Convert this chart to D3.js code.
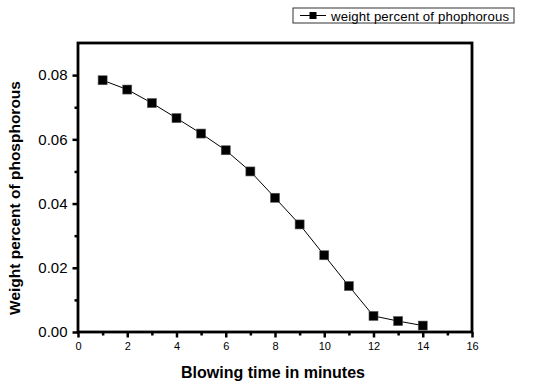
<!DOCTYPE html>
<html>
<head>
<meta charset="utf-8">
<script src="https://cdn.jsdelivr.net/npm/d3@7"></script>
<style>
  body { margin: 0; background: #fff; }
  text { font-family: Arial, "Liberation Sans", sans-serif; }
</style>
</head>
<body>
<div id="chart"></div>
<script>
const minutes = [1, 2, 3, 4, 5, 6, 7, 8, 9, 10, 11, 12, 13, 14];
const phosphorus = [0.0784, 0.0755, 0.0713, 0.0666, 0.0618, 0.0566, 0.0500,
                    0.0418, 0.0335, 0.0239, 0.0143, 0.0050, 0.0034, 0.0020];
const xTicks = [0, 2, 4, 6, 8, 10, 12, 14, 16];
const yTicks = [0, 0.02, 0.04, 0.06, 0.08];
const seriesName = "weight percent of phophorous";

const W = 541, H = 386;
const margin = { top: 43, right: 69, bottom: 54, left: 78 },
      width = W - margin.left - margin.right,
      height = H - margin.top - margin.bottom;

const svg = d3.select("#chart").append("svg")
    .attr("width", W).attr("height", H)
  .append("g")
    .attr("transform", `translate(${margin.left},${margin.top})`);

const x = d3.scaleLinear().domain([0, 16]).range([0, width]);
const y = d3.scaleLinear().domain([0, 0.09]).range([height, 0]);

// minor ticks
svg.append("g")
    .attr("transform", `translate(0,${height})`)
    .call(d3.axisBottom(x).tickValues(d3.range(1, 16, 2)).tickSize(3.5).tickFormat(""))
    .call(g => g.select(".domain").remove())
    .selectAll("line").attr("stroke-width", 2.5);
svg.append("g")
    .call(d3.axisLeft(y).tickValues([0.01, 0.03, 0.05, 0.07]).tickSize(3.5).tickFormat(""))
    .call(g => g.select(".domain").remove())
    .selectAll("line").attr("stroke-width", 2.5);

// major ticks
const xAxis = svg.append("g")
    .attr("transform", `translate(0,${height})`)
    .call(d3.axisBottom(x).tickValues(xTicks).tickSize(5.5).tickPadding(5).tickFormat(d3.format("d")));
xAxis.select(".domain").remove();
xAxis.selectAll("line").attr("stroke-width", 2.5);
xAxis.selectAll("text").attr("font-size", 11).attr("fill", "#000");

const yAxis = svg.append("g")
    .call(d3.axisLeft(y).tickValues(yTicks).tickSize(5.5).tickPadding(5).tickFormat(d3.format(".2f")));
yAxis.select(".domain").remove();
yAxis.selectAll("line").attr("stroke-width", 2.5);
yAxis.selectAll("text").attr("font-size", 15).attr("fill", "#000");

// frame
svg.append("rect")
    .attr("width", width).attr("height", height)
    .attr("fill", "none").attr("stroke", "#000").attr("stroke-width", 2.8);

// line + markers
const line = d3.line()
    .x((d, i) => x(minutes[i]))
    .y(d => y(d));

svg.append("path")
    .datum(phosphorus)
    .attr("fill", "none")
    .attr("stroke", "#000")
    .attr("stroke-width", 1)
    .attr("d", line);

svg.selectAll(".pt")
    .data(phosphorus)
    .enter().append("rect")
    .attr("class", "pt")
    .attr("x", (d, i) => x(minutes[i]) - 4.5)
    .attr("y", d => y(d) - 4.5)
    .attr("width", 9).attr("height", 9)
    .attr("fill", "#000")
    .attr("stroke", "#555").attr("stroke-width", 0.6);

// axis titles
svg.append("text")
    .attr("x", x(8) - 2).attr("y", height + 46)
    .attr("text-anchor", "middle")
    .attr("font-size", 16).attr("font-weight", "bold")
    .text("Blowing time in minutes");

svg.append("text")
    .attr("transform", "rotate(-90)")
    .attr("x", -(198 - margin.top)).attr("y", -58)
    .attr("text-anchor", "middle")
    .attr("font-size", 15.5).attr("font-weight", "bold")
    .text("Weight percent of phosphorous");

// legend
const legend = d3.select("svg").append("g").attr("transform", "translate(293,8)");
legend.append("rect")
    .attr("width", 221).attr("height", 15)
    .attr("fill", "#fff").attr("stroke", "#333").attr("stroke-width", 1);
legend.append("line")
    .attr("x1", 7).attr("x2", 33).attr("y1", 7.5).attr("y2", 7.5)
    .attr("stroke", "#000");
legend.append("rect")
    .attr("x", 16.5).attr("y", 4).attr("width", 7).attr("height", 7).attr("fill", "#000");
legend.append("text")
    .attr("x", 38).attr("y", 12.5)
    .attr("font-size", 13.2)
    .attr("textLength", 178)
    .text(seriesName);
</script>
</body>
</html>
